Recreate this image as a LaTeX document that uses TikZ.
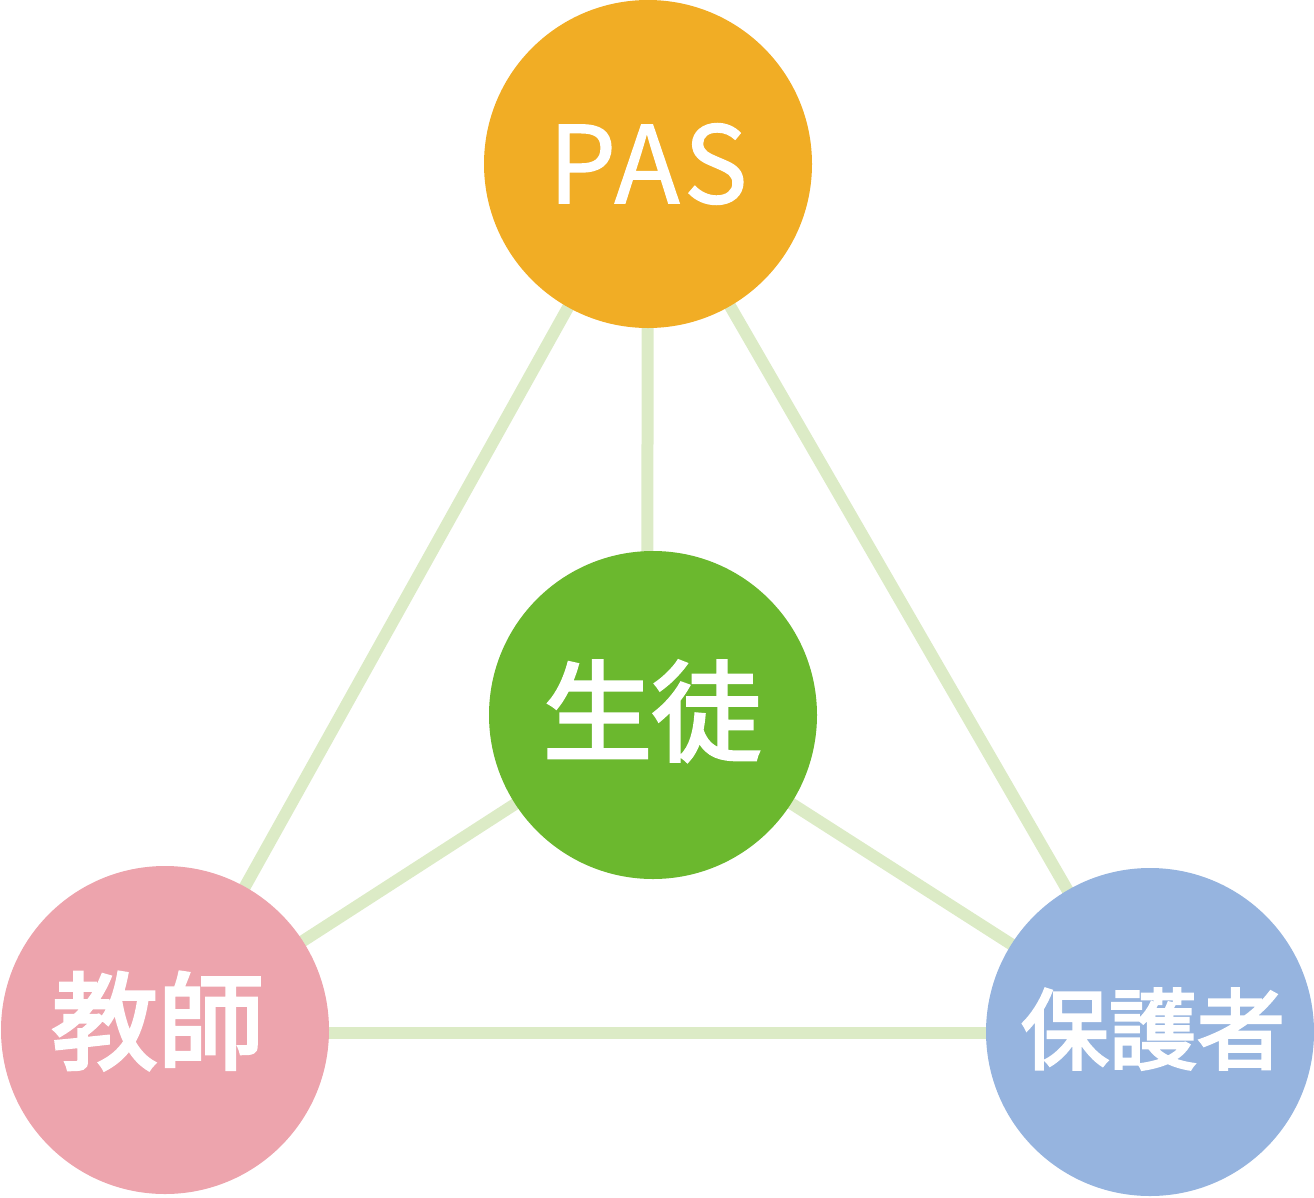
\documentclass[tikz,border=0pt]{standalone}
\usepackage{fontspec}
\setmainfont{Noto Sans CJK JP}
\newfontfamily\jpbold{Noto Sans CJK JP}[FakeBold=3]
\newfontfamily\latinfont{Noto Sans CJK JP}[LetterSpace=4,FakeBold=1.2]
\definecolor{linkc}{HTML}{DCEBC6}
\definecolor{pasc}{HTML}{F1AD25}
\definecolor{stuc}{HTML}{6BB82E}
\definecolor{teac}{HTML}{EDA4AD}
\definecolor{parc}{HTML}{96B4DF}
\tikzset{
  roleball/.style={circle, minimum size=328pt, inner sep=0pt, text=white},
  link/.style={draw=linkc, line width=12pt}
}
\begin{document}
\begin{tikzpicture}[x=1pt,y=-1pt]
\useasboundingbox (0,0) rectangle (1314,1197);
\coordinate (pasC) at (648,164);
\coordinate (stuC) at (653,715);
\coordinate (teaC) at (165,1030);
\coordinate (parC) at (1150,1033);
\coordinate (pasBase) at (647,715);
% connectors
\draw[link] (pasC) -- (pasBase);
\draw[link] (pasC) -- (teaC);
\draw[link] (pasC) -- (parC);
\draw[link] (stuC) -- (teaC);
\draw[link] (stuC) -- (parC);
\draw[link] (parC -| teaC) -- (parC);
% circles
\node[roleball, fill=pasc] (pas) at (pasC) {};
\node[roleball, fill=stuc] (stu) at (stuC) {};
\node[roleball, fill=teac] (tea) at (teaC) {};
\node[roleball, fill=parc] (par) at (1150,1032) {};
% labels
\node[text=white, inner sep=0pt] (pasL) at (648,164) {\latinfont\fontsize{107}{110}\selectfont PAS};
\node[text=white, inner sep=0pt] (stuL) at (652,711) {\jpbold\fontsize{109}{120}\selectfont 生徒};
\node[text=white, inner sep=0pt] (teaL) at (158,1021) {\jpbold\fontsize{106}{120}\selectfont 教師};
\node[text=white, inner sep=0pt] (parL) at (1153,1029) {\jpbold\fontsize{88}{100}\selectfont 保護者};
\end{tikzpicture}
\end{document}
